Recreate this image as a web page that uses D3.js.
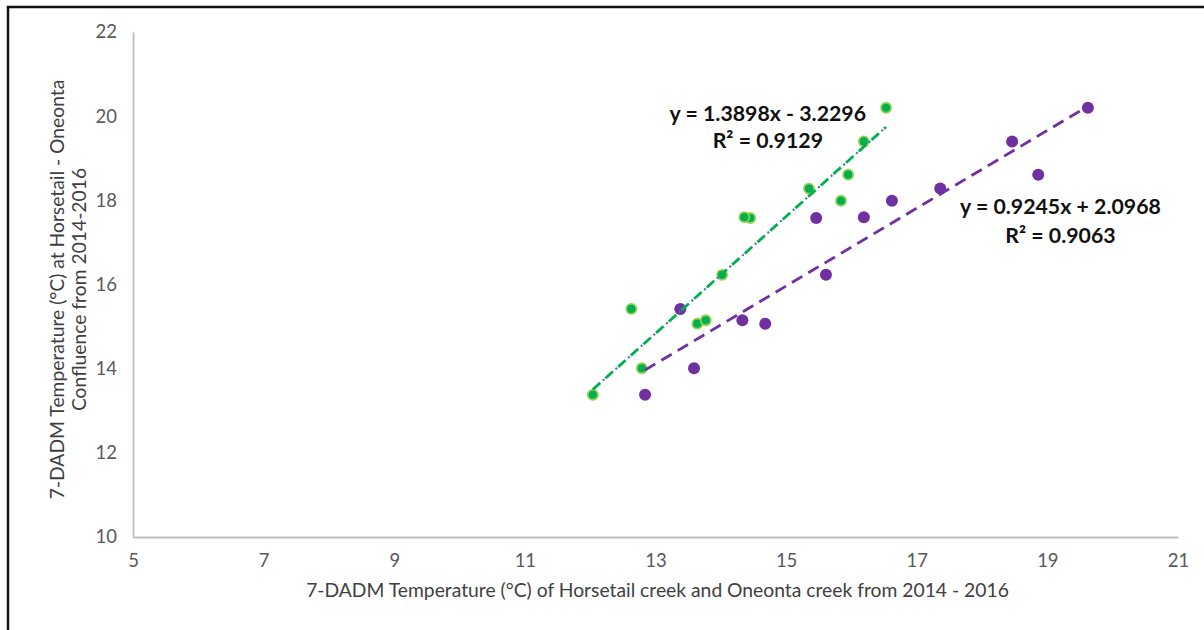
<!DOCTYPE html>
<html>
<head>
<meta charset="utf-8">
<script src="https://cdn.jsdelivr.net/npm/d3@7"></script>
<style>
  html, body { margin: 0; padding: 0; background: #fff; }
  svg { display: block; }
</style>
</head>
<body>
<svg id="chart" width="1204" height="630"></svg>
<script>
// ---- Data ----
const confluenceY = [13.38, 14.01, 15.07, 15.15, 15.42, 16.23, 17.58, 17.60, 17.99, 18.28, 18.61, 19.40, 20.20];
const horsetailX  = [12.04, 12.79, 13.64, 13.77, 12.63, 14.02, 14.45, 14.36, 15.84, 15.35, 15.95, 16.19, 16.53];
const oneontaX    = [12.84, 13.59, 14.68, 14.33, 13.38, 15.61, 15.46, 16.19, 16.62, 17.36, 18.86, 18.46, 19.62];

const xTicks = [5, 7, 9, 11, 13, 15, 17, 19, 21];
const yTicks = [10, 12, 14, 16, 18, 20, 22];

const trendSlopes     = [1.3898, 0.9245];
const trendIntercepts = [-3.2296, 2.0968];
const eqLabels = ["y = 1.3898x - 3.2296", "y = 0.9245x + 2.0968"];
const r2Labels = ["R\u00B2 = 0.9129", "R\u00B2 = 0.9063"];
const labelAnchors = [[14.72, 19.88], [19.2, 17.67]];   // data coords of label centre/baseline

const xTitle = "7-DADM Temperature (\u00B0C) of Horsetail creek and Oneonta creek from 2014 - 2016";
const yTitle1 = "7-DADM Temperature (\u00B0C) at Horsetail - Oneonta";
const yTitle2 = "Confluence from 2014-2016";

// ---- Layout ----
const svg = d3.select("#chart");
const margin = { left: 133, right: 1178, top: 32, bottom: 537 };
const FONT = "Lato, 'Open Sans', sans-serif";

const x = d3.scaleLinear().domain([5, 21]).range([margin.left, margin.right]);
const y = d3.scaleLinear().domain([10, 22]).range([margin.bottom, margin.top]);

// frame
svg.append("rect")
  .attr("x", 8).attr("y", 7).attr("width", 1300).attr("height", 800)
  .attr("fill", "none").attr("stroke", "#111").attr("stroke-width", 2.5);

// axes
const xAxis = d3.axisBottom(x).tickValues(xTicks).tickSize(0).tickPadding(17).tickFormat(d3.format("d"));
const yAxis = d3.axisLeft(y).tickValues(yTicks).tickSize(0).tickPadding(16).tickFormat(d3.format("d"));

const gx = svg.append("g").attr("transform", `translate(0,${margin.bottom})`).call(xAxis);
const gy = svg.append("g").attr("transform", `translate(${margin.left},0)`).call(yAxis);
[gx, gy].forEach(g => {
  g.select(".domain").attr("stroke", "#bfbfbf").attr("stroke-width", 1.8);
  g.selectAll("text").attr("fill", "#595959").style("font-family", FONT).style("font-size", "18.5px");
});

// axis titles
const TITLE_SIZE = "19.3px";
svg.append("text")
  .attr("x", (margin.left + margin.right) / 2 + 2).attr("y", 597)
  .attr("text-anchor", "middle").attr("fill", "#404040")
  .style("font-family", FONT).style("font-size", TITLE_SIZE)
  .text(xTitle);

const yMid = (margin.top + margin.bottom) / 2 + 5;
svg.append("text")
  .attr("transform", `translate(64,${yMid}) rotate(-90)`)
  .attr("text-anchor", "middle").attr("fill", "#404040")
  .style("font-family", FONT).style("font-size", TITLE_SIZE)
  .text(yTitle1);
svg.append("text")
  .attr("transform", `translate(86,${yMid}) rotate(-90)`)
  .attr("text-anchor", "middle").attr("fill", "#404040")
  .style("font-family", FONT).style("font-size", TITLE_SIZE)
  .text(yTitle2);

// points
const horsetail = horsetailX.map((v, i) => [v, confluenceY[i]]);
const oneonta   = oneontaX.map((v, i) => [v, confluenceY[i]]);

svg.append("g").selectAll("circle").data(oneonta).join("circle")
  .attr("cx", d => x(d[0])).attr("cy", d => y(d[1])).attr("r", 6)
  .attr("fill", "#7030a0");

svg.append("g").selectAll("circle").data(horsetail).join("circle")
  .attr("cx", d => x(d[0])).attr("cy", d => y(d[1])).attr("r", 5)
  .attr("fill", "#00b050").attr("stroke", "#92d050").attr("stroke-width", 1.8);

// trendlines
const line = d3.line().x(d => x(d[0])).y(d => y(d[1]));
function trend(xs, k) {
  const [lo, hi] = d3.extent(xs);
  return [[lo, trendSlopes[k] * lo + trendIntercepts[k]], [hi, trendSlopes[k] * hi + trendIntercepts[k]]];
}
const tG = trend(horsetailX, 0);
const tP = trend(oneontaX, 1);

svg.append("path").attr("d", line(tG)).attr("fill", "none")
  .attr("stroke", "#4472c4").attr("stroke-width", 2.2)
  .attr("stroke-dasharray", "2,15").attr("stroke-dashoffset", 3.5);
svg.append("path").attr("d", line(tG)).attr("fill", "none")
  .attr("stroke", "#00b050").attr("stroke-width", 2.8)
  .attr("stroke-dasharray", "10,7");
svg.append("path").attr("d", line(tP)).attr("fill", "none")
  .attr("stroke", "#7030a0").attr("stroke-width", 2.8)
  .attr("stroke-dasharray", "12,7");

// equation labels
const lineGaps = [26.5, 29];
labelAnchors.forEach((a, k) => {
  const g = svg.append("g");
  g.append("text").attr("x", x(a[0])).attr("y", y(a[1]))
    .attr("text-anchor", "middle").attr("fill", "#111")
    .style("font-family", FONT).style("font-size", "21.3px").style("font-weight", "bold")
    .text(eqLabels[k]);
  g.append("text").attr("x", x(a[0])).attr("y", y(a[1]) + lineGaps[k])
    .attr("text-anchor", "middle").attr("fill", "#111")
    .style("font-family", FONT).style("font-size", "21.3px").style("font-weight", "bold")
    .text(r2Labels[k]);
});
</script>
</body>
</html>
